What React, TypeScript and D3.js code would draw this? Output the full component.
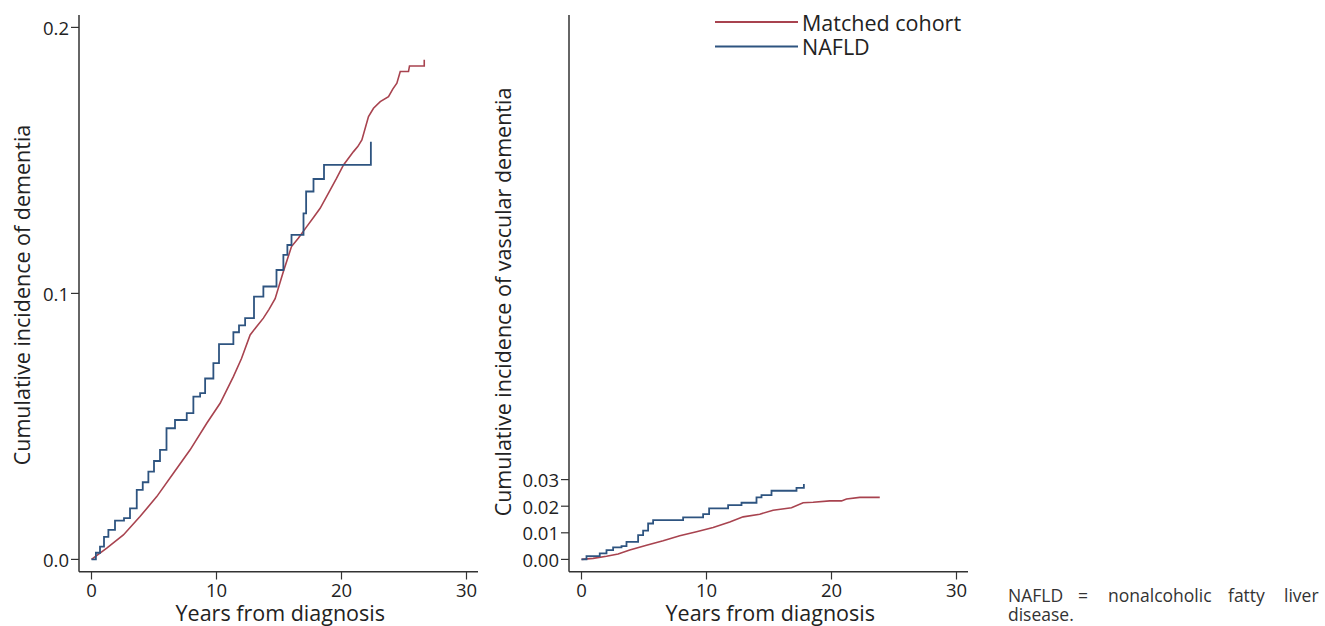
import React, { useEffect, useRef } from 'react';
import * as d3 from 'd3';

// Cumulative incidence
const demMatchedT = [0, 1.22, 2.55, 3.88, 5.22, 6.55, 7.89, 9.22, 10.29, 11.35, 12.0, 12.69, 13.2, 13.75, 14.2, 14.69, 15.35, 16.0, 16.56, 17.22, 17.8, 18.29, 19.1, 19.6, 20.16, 20.96, 21.3, 21.63, 22.16, 22.56, 23.1, 23.76, 24.1, 24.43, 24.7, 25.36, 25.44, 26.62, 26.62];
const demMatchedV = [0, 0.0042, 0.0092, 0.0161, 0.0236, 0.0324, 0.0412, 0.0512, 0.0587, 0.0687, 0.0755, 0.0844, 0.0875, 0.0907, 0.094, 0.098, 0.1082, 0.1176, 0.1208, 0.1251, 0.1288, 0.132, 0.1389, 0.1432, 0.1483, 0.1533, 0.1552, 0.1577, 0.1665, 0.1696, 0.1721, 0.174, 0.1768, 0.179, 0.1834, 0.1834, 0.1855, 0.1855, 0.1878];

const demNafldT = [0, 0.35, 0.68, 1.0, 1.35, 1.88, 2.6, 3.08, 3.62, 4.1, 4.55, 5.0, 5.48, 6.0, 6.68, 7.62, 8.15, 8.69, 9.09, 9.75, 10.2, 11.35, 11.8, 12.29, 13.0, 13.75, 14.8, 15.35, 15.67, 16.0, 16.96, 17.17, 17.76, 18.6, 22.35, 22.35];
const demNafldV = [0, 0.0025, 0.0048, 0.0085, 0.0111, 0.0146, 0.0155, 0.0192, 0.0261, 0.029, 0.033, 0.037, 0.0412, 0.0493, 0.0524, 0.055, 0.0612, 0.0625, 0.068, 0.0738, 0.0809, 0.0854, 0.088, 0.0907, 0.0988, 0.1026, 0.1088, 0.1145, 0.1182, 0.122, 0.1301, 0.1383, 0.143, 0.1483, 0.1483, 0.157];

const vasMatchedT = [0, 0.93, 2.0, 2.93, 3.86, 5.2, 6.53, 7.86, 9.2, 10.53, 11.86, 12.93, 14.26, 15.33, 16.8, 17.73, 18.53, 19.86, 20.8, 21.2, 22.26, 23.86];
const vasMatchedV = [0, 0.0004, 0.0012, 0.002, 0.0035, 0.0053, 0.007, 0.0089, 0.0104, 0.012, 0.0141, 0.016, 0.017, 0.0185, 0.0194, 0.0213, 0.0215, 0.022, 0.022, 0.0227, 0.0233, 0.0233];

const vasNafldT = [0, 0.4, 1.46, 2.0, 2.53, 3.2, 3.6, 4.53, 4.93, 5.33, 5.73, 8.13, 9.73, 10.21, 11.73, 12.8, 14.0, 14.4, 15.2, 17.2, 17.79, 17.79];
const vasNafldV = [0, 0.0012, 0.0023, 0.0035, 0.0045, 0.005, 0.0066, 0.0091, 0.0108, 0.0135, 0.0148, 0.0158, 0.017, 0.0192, 0.0204, 0.0213, 0.0233, 0.0242, 0.0258, 0.0269, 0.0273, 0.0283];

const xTicks = [0, 10, 20, 30];
const leftYTicks = [0, 0.1, 0.2];
const leftYLabels = ['0.0', '0.1', '0.2'];
const rightYTicks = [0, 0.01, 0.02, 0.03];
const rightYLabels = ['0.00', '0.01', '0.02', '0.03'];
const seriesNames = ['Matched cohort', 'NAFLD'];
const seriesColors = ['#a8434f', '#2e5480'];

const FONT = '"Open Sans", "Noto Sans", sans-serif';
const AXIS = '#333333';

const zip = (t: number[], v: number[]) => t.map((x, i) => [x, v[i]] as [number, number]);

export default function App() {
  const svgRef = useRef<SVGSVGElement>(null);

  useEffect(() => {
    if (!svgRef.current) return;
    const svg = d3.select(svgRef.current);
    svg.selectAll('*').remove();

    const panel = (
      x0: number,
      yTicks: number[],
      yLabels: string[],
      yTitle: string,
      titleX: number,
      titleY: number,
      matched: [number, number][],
      nafld: [number, number][],
    ) => {
      const x = d3.scaleLinear().domain([0, 30]).range([x0 + 12.5, x0 + 387.5]);
      const y = d3.scaleLinear().domain([0, 0.2]).range([559.4, 27.4]);
      const g = svg.append('g');

      // axes
      g.append('line')
        .attr('x1', x0).attr('x2', x0)
        .attr('y1', 15).attr('y2', 571.7)
        .attr('stroke', AXIS).attr('stroke-width', 1.5);
      g.append('line')
        .attr('x1', x0).attr('x2', x0 + 399)
        .attr('y1', 571.7).attr('y2', 571.7)
        .attr('stroke', AXIS).attr('stroke-width', 1.5);

      yTicks.forEach((v, i) => {
        g.append('line')
          .attr('x1', x0 - 8).attr('x2', x0)
          .attr('y1', y(v)).attr('y2', y(v))
          .attr('stroke', AXIS).attr('stroke-width', 1.2);
        g.append('text')
          .attr('x', x0 - 10).attr('y', y(v))
          .attr('text-anchor', 'end').attr('dominant-baseline', 'central')
          .attr('font-family', FONT).attr('font-size', 18.5).attr('fill', '#222')
          .text(yLabels[i]);
      });

      xTicks.forEach((t) => {
        g.append('line')
          .attr('x1', x(t)).attr('x2', x(t))
          .attr('y1', 571.7).attr('y2', 579.5)
          .attr('stroke', AXIS).attr('stroke-width', 1.2);
        g.append('text')
          .attr('x', x(t)).attr('y', 589.5)
          .attr('text-anchor', 'middle').attr('dominant-baseline', 'central')
          .attr('font-family', FONT).attr('font-size', 18.5).attr('fill', '#222')
          .text(t);
      });

      g.append('text')
        .attr('x', x(15.1)).attr('y', 612.5)
        .attr('text-anchor', 'middle').attr('dominant-baseline', 'central')
        .attr('font-family', FONT).attr('font-size', 21.5).attr('fill', '#222')
        .text('Years from diagnosis');

      g.append('text')
        .attr('transform', `translate(${titleX},${titleY}) rotate(-90)`)
        .attr('text-anchor', 'middle').attr('dominant-baseline', 'central')
        .attr('font-family', FONT).attr('font-size', 21.5).attr('fill', '#222')
        .text(yTitle);

      const lin = d3.line<[number, number]>().x((d) => x(d[0])).y((d) => y(d[1]));
      const step = d3.line<[number, number]>().x((d) => x(d[0])).y((d) => y(d[1])).curve(d3.curveStepAfter);

      g.append('path')
        .attr('d', lin(matched) ?? '')
        .attr('fill', 'none').attr('stroke', seriesColors[0]).attr('stroke-width', 1.6);
      g.append('path')
        .attr('d', step(nafld) ?? '')
        .attr('fill', 'none').attr('stroke', seriesColors[1]).attr('stroke-width', 1.8);
    };

    panel(79, leftYTicks, leftYLabels, 'Cumulative incidence of dementia', 21, 295, zip(demMatchedT, demMatchedV), zip(demNafldT, demNafldV));
    panel(569, rightYTicks, rightYLabels, 'Cumulative incidence of vascular dementia', 502, 302, zip(vasMatchedT, vasMatchedV), zip(vasNafldT, vasNafldV));

    // legend
    seriesNames.forEach((name, i) => {
      const ly = 22 + i * 24.5;
      svg.append('line')
        .attr('x1', 715).attr('x2', 798)
        .attr('y1', ly).attr('y2', ly)
        .attr('stroke', seriesColors[i]).attr('stroke-width', 2);
      svg.append('text')
        .attr('x', 802).attr('y', ly)
        .attr('dominant-baseline', 'central')
        .attr('font-family', FONT).attr('font-size', 21.5).attr('fill', '#222')
        .text(name);
    });

    // footnote (justified line)
    const words = ['NAFLD', '=', 'nonalcoholic', 'fatty', 'liver'];
    const wordX = [1008, 1078, 1108, 1228, 1284];
    words.forEach((w, i) => {
      svg.append('text')
        .attr('x', wordX[i]).attr('y', 602)
        .attr('font-family', FONT).attr('font-size', 17.5).attr('fill', '#333')
        .text(w);
    });
    svg.append('text')
      .attr('x', 1008).attr('y', 621)
      .attr('font-family', FONT).attr('font-size', 17.5).attr('fill', '#333')
      .text('disease.');
  }, []);

  return (
    <svg
      ref={svgRef}
      width={1325}
      height={626}
      style={{ position: 'absolute', left: 0, top: 0, background: '#fff' }}
    />
  );
}
